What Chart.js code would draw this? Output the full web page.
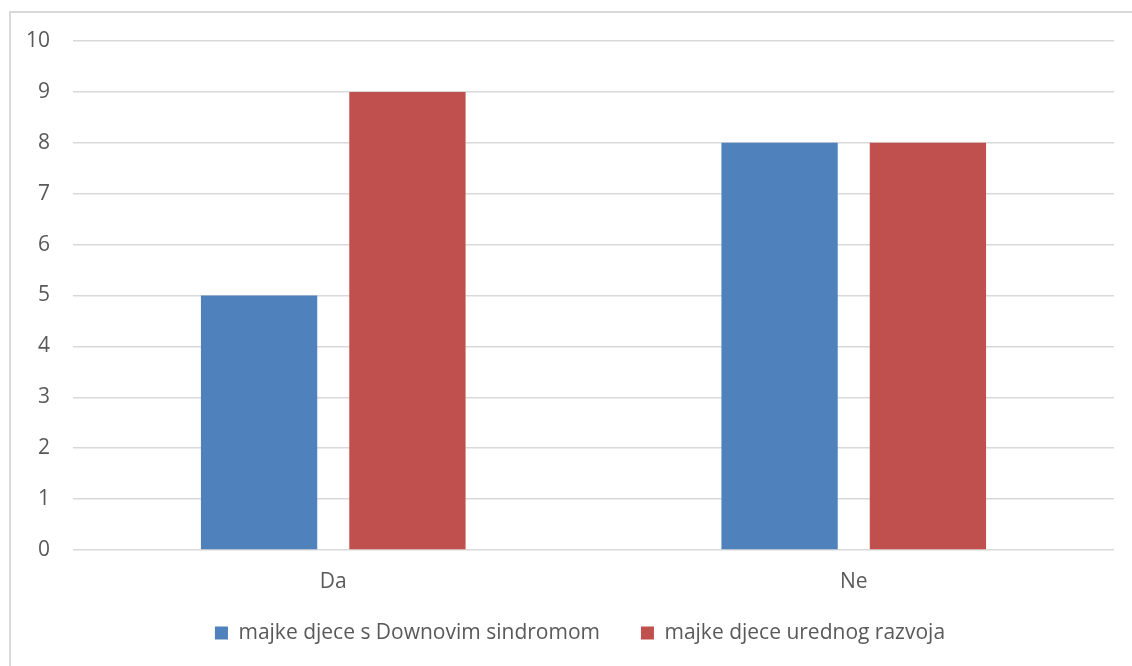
<!doctype html>
<html lang="hr">
  <head>
    <meta charset="utf-8">
    <title>Chart</title>
    <style>
      * { margin: 0; padding: 0; }
      body { width: 1132px; height: 666px; background: #fff; overflow: hidden; position: relative; }
      .frame {
        position: absolute; left: 9px; top: 11px; width: 1200px; height: 700px;
        border-left: 2px solid #d9d9d9; border-top: 2px solid #d9d9d9;
      }
      .chartBox { position: absolute; left: 0; top: 0; width: 1132px; height: 666px; }
    </style>
  </head>
  <body>
    <div class="frame"></div>
    <div class="chartBox"><canvas id="myChart"></canvas></div>
    <script src="https://cdn.jsdelivr.net/npm/chart.js"></script>
    <script>
const categories = ['Da', 'Ne'];
const downSyndrome = [5, 8];
const typicalDev = [9, 8];
const seriesNames = ['majke djece s Downovim sindromom', 'majke djece urednog razvoja'];

const FONT = "'Open Sans', sans-serif";
const SIZE = 21;

const data = {
  labels: categories,
  datasets: [
    { label: seriesNames[0], data: downSyndrome, backgroundColor: '#4f81bd' },
    { label: seriesNames[1], data: typicalDev, backgroundColor: '#c0504d' }
  ]
};

// move the legend row to where the original has it
const legendShift = {
  id: 'legendShift',
  afterLayout(chart) {
    const lg = chart.legend;
    lg.left += 46;
    lg.top -= 12.5; lg.bottom -= 12.5;
  }
};

const config = {
  type: 'bar',
  data,
  options: {
    responsive: false,
    animation: false,
    devicePixelRatio: 1,
    datasets: { bar: { categoryPercentage: 0.57, barPercentage: 0.784 } },
    layout: { padding: { left: 0, right: 18, top: 41, bottom: 0 } },
    scales: {
      x: {
        grid: { display: false },
        border: { display: false },
        ticks: { color: '#595959', font: { family: FONT, size: SIZE }, padding: 11 },
        afterFit(scale) { scale.height = 44; }
      },
      y: {
        min: 0,
        max: 10,
        ticks: { stepSize: 1, color: '#595959', font: { family: FONT, size: SIZE }, padding: 23 },
        grid: { color: '#d9d9d9', lineWidth: 1.5, drawTicks: false },
        border: { display: false },
        afterFit(scale) { scale.width = 73; }
      }
    },
    plugins: {
      legend: {
        position: 'bottom',
        labels: { boxWidth: 13, boxHeight: 13, padding: 41, color: '#595959', font: { family: FONT, size: SIZE } }
      },
      tooltip: { enabled: false }
    }
  },
  plugins: [legendShift]
};

const canvas = document.getElementById('myChart');
canvas.width = 1132;
canvas.height = 666;
const myChart = new Chart(canvas, config);
    </script>
  </body>
</html>
